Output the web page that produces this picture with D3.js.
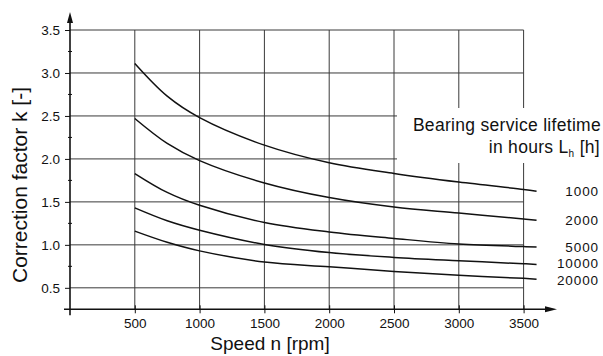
<!DOCTYPE html>
<html><head><meta charset="utf-8">
<script src="https://cdn.jsdelivr.net/npm/d3@7"></script>
<style>body{margin:0;background:#fff}svg{display:block}text{font-family:"Liberation Sans",Arial,sans-serif;fill:#111}</style>
</head><body><svg id="c" width="603" height="356"></svg>
<script>
const speeds = [500, 750, 1000, 1500, 2000, 2500, 3000, 3500, 3600];
const k1000  = [3.11, 2.73, 2.48, 2.16, 1.955, 1.83, 1.73, 1.645, 1.625];
const k2000  = [2.47, 2.18, 1.98, 1.72, 1.55, 1.44, 1.37, 1.30, 1.285];
const k5000  = [1.83, 1.61, 1.46, 1.26, 1.15, 1.075, 1.01, 0.98, 0.975];
const k10000 = [1.43, 1.28, 1.17, 1.005, 0.91, 0.854, 0.815, 0.78, 0.772];
const k20000 = [1.16, 1.03, 0.93, 0.80, 0.745, 0.69, 0.645, 0.61, 0.60];
const seriesNames = ["1000", "2000", "5000", "10000", "20000"];
const xTicks = [500, 1000, 1500, 2000, 2500, 3000, 3500];
const yTicks = [0.5, 1.0, 1.5, 2.0, 2.5, 3.0, 3.5];
const yMinor = [0.75, 1.25, 1.75, 2.25, 2.75, 3.25];

const svg = d3.select("#c");
const x = d3.scaleLinear().domain([0, 3500]).range([70, 523.6]);
const y = d3.scaleLinear().domain([0.25, 3.5]).range([309.3, 30]);
const grid = "#3a3a3a";

// gridlines
svg.append("g").selectAll("line").data(yTicks).join("line")
  .attr("x1", x(0)).attr("x2", x(3500)).attr("y1", d => y(d)).attr("y2", d => y(d))
  .attr("stroke", grid).attr("stroke-width", 1);
svg.append("g").selectAll("line").data(xTicks).join("line")
  .attr("x1", d => x(d)).attr("x2", d => x(d)).attr("y1", y(3.5)).attr("y2", y(0.25))
  .attr("stroke", grid).attr("stroke-width", 1);

// white box behind legend title
svg.append("rect").attr("x", 397).attr("y", 108).attr("width", 206).attr("height", 55).attr("fill", "#fff");

// axes
const yAxis = svg.append("g").attr("transform", `translate(${x(0)},0)`)
  .call(d3.axisLeft(y).tickValues(yTicks).tickFormat(d3.format(".1f")).tickSize(5).tickPadding(5));
yAxis.select(".domain").remove();
yAxis.selectAll("text").style("font-size", "13.5px");
yAxis.selectAll("line").attr("stroke", "#111");
svg.append("g").selectAll("line").data(yMinor).join("line")
  .attr("x1", x(0) - 2).attr("x2", x(0) + 2).attr("y1", d => y(d)).attr("y2", d => y(d)).attr("stroke", "#111");

const xAxis = svg.append("g").attr("transform", `translate(0,${y(0.25)})`)
  .call(d3.axisBottom(x).tickValues(xTicks).tickFormat(d3.format("d")).tickSize(4).tickPadding(5));
xAxis.select(".domain").remove();
xAxis.selectAll("text").style("font-size", "13.5px");
xAxis.selectAll("line").attr("stroke", "#111").attr("y1", -4);

svg.append("line").attr("x1", x(0)).attr("x2", x(0)).attr("y1", 20).attr("y2", y(0.25) + 6)
  .attr("stroke", "#111").attr("stroke-width", 1.6);
svg.append("line").attr("x1", x(0) - 6).attr("x2", 548).attr("y1", y(0.25)).attr("y2", y(0.25))
  .attr("stroke", "#111").attr("stroke-width", 1.6);
svg.append("path").attr("d", `M${x(0)},12 L${x(0)-3},23 L${x(0)+3},23 Z`).attr("fill", "#111");
svg.append("path").attr("d", `M557,${y(0.25)} L545,${y(0.25)-3} L545,${y(0.25)+3} Z`).attr("fill", "#111");

// curves
const all = [k1000, k2000, k5000, k10000, k20000];
const line = d3.line().x((d, i) => x(speeds[i])).y(d => y(d)).curve(d3.curveCatmullRom.alpha(0.5));
svg.append("g").selectAll("path").data(all).join("path")
  .attr("d", d => line(d)).attr("fill", "none").attr("stroke", "#111").attr("stroke-width", 1.5);

// series labels (the last two nudged apart so they do not collide)
svg.append("g").selectAll("text").data(all).join("text")
  .attr("x", 599)
  .attr("y", (d, i) => y(d[d.length - 1]) + (i === 3 ? -1.5 : i === 4 ? 1 : 0))
  .attr("dy", "0.36em")
  .attr("text-anchor", "end").style("font-size", "13.5px").style("letter-spacing", "0.9px")
  .text((d, i) => seriesNames[i]);

// legend title
svg.append("text").attr("x", 601).attr("y", 131).attr("text-anchor", "end")
  .style("font-size", "17.5px").style("letter-spacing", "0.3px")
  .text("Bearing service lifetime");
const t2 = svg.append("text").attr("x", 600).attr("y", 153).attr("text-anchor", "end")
  .style("font-size", "17.5px").style("letter-spacing", "0.3px");
t2.append("tspan").text("in hours L");
t2.append("tspan").attr("dy", 4).style("font-size", "10px").text("h");
t2.append("tspan").attr("dy", -4).text(" [h]");

// axis titles
svg.append("text").attr("x", 270).attr("y", 350).attr("text-anchor", "middle").style("font-size", "19px").text("Speed n [rpm]");
svg.append("text").attr("transform", "translate(27,185) rotate(-90)").attr("text-anchor", "middle")
  .style("font-size", "21px").text("Correction factor k [-]");
</script></body></html>
